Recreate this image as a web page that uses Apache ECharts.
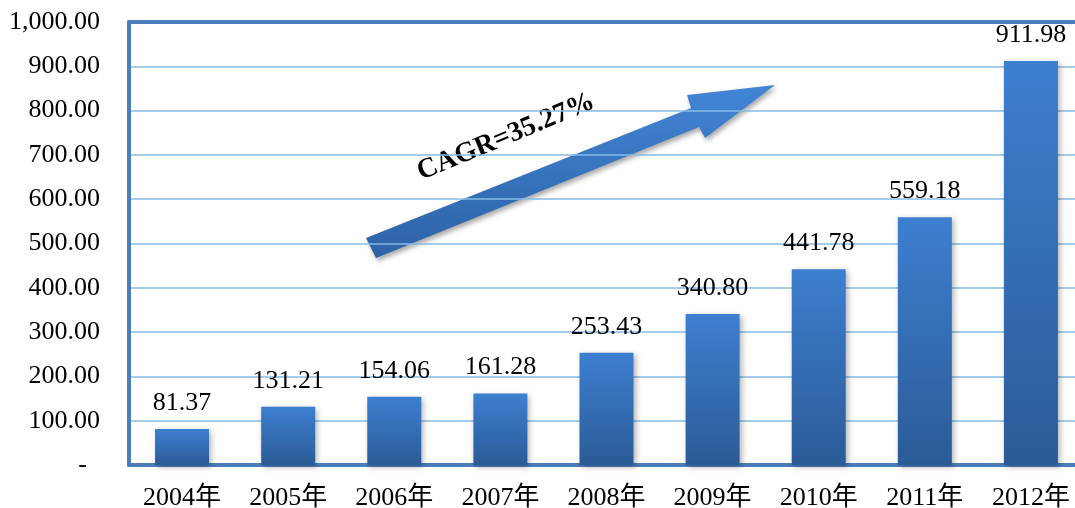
<!DOCTYPE html>
<html>
<head>
<meta charset="utf-8">
<script src="https://cdn.jsdelivr.net/npm/echarts@6/dist/echarts.min.js"></script>
<style>
    html, body {margin: 0; padding: 0; background: #fff;}
    #main {width: 1075px; height: 508px;}
</style>
</head>
<body>
<div id="main"></div>
<script>
var years = ['2004年', '2005年', '2006年', '2007年', '2008年', '2009年', '2010年', '2011年', '2012年'];
var values = [81.37, 131.21, 154.06, 161.28, 253.43, 340.80, 441.78, 559.18, 911.98];
var cagr_text = 'CAGR=35.27%';

var serif = '"Times New Roman", "Liberation Serif", "DejaVu Serif", "Noto Sans CJK SC", serif';

var chartDom = document.getElementById('main');
var myChart = echarts.init(chartDom);
var option;

function fmt_num(v) {
    if (v === 0) return '-  ';
    return v.toFixed(2).replace(/\B(?=(\d{3})+(?!\d))/g, ',');
}

option = {
    animation: false,
    grid: {left: 129, right: -9, top: 22, bottom: 43, containLabel: false, outerBoundsMode: 'none'},
    xAxis: [{
        type: 'category',
        data: years,
        axisLine: {lineStyle: {color: '#4a7ebb', width: 4}},
        axisTick: {inside: true, length: 7, lineStyle: {color: '#8fc0e6', width: 1.5}},
        axisLabel: {color: '#000', fontSize: 26, fontFamily: serif, margin: 20}
    }, {
        type: 'category',
        data: years,
        position: 'top',
        axisLine: {lineStyle: {color: '#4a7ebb', width: 4}},
        axisTick: {show: false},
        axisLabel: {show: false}
    }],
    yAxis: {
        type: 'value',
        min: 0,
        max: 1000,
        interval: 100,
        axisLine: {show: true, lineStyle: {color: '#4a7ebb', width: 4}},
        axisTick: {show: false},
        splitLine: {lineStyle: {color: '#86bbe3', width: 1.5}},
        axisLabel: {
            color: '#000', fontSize: 26, fontFamily: serif, margin: 29,
            formatter: fmt_num
        }
    },
    series: [{
        type: 'bar',
        data: values,
        barWidth: 54,
        itemStyle: {
            color: new echarts.graphic.LinearGradient(0, 0, 0, 1, [
                {offset: 0, color: '#3d7fd0'},
                {offset: 1, color: '#2b5b97'}
            ]),
            shadowBlur: 6,
            shadowColor: 'rgba(0,0,0,0.3)',
            shadowOffsetX: 2,
            shadowOffsetY: 2
        },
        label: {
            show: true,
            position: 'top',
            distance: 13,
            color: '#000',
            fontSize: 26,
            fontFamily: serif,
            formatter: function (p) { return p.value.toFixed(2); }
        }
    }],
    graphic: [{
        // 趋势箭头
        type: 'polygon',
        shape: {
            points: [[366, 238], [691, 108], [687, 95], [775, 85], [705, 138], [699, 127], [376, 258]]
        },
        style: {
            fill: new echarts.graphic.LinearGradient(0, 0, 0, 1, [
                {offset: 0, color: '#4285d6'},
                {offset: 1, color: '#2d62a6'}
            ]),
            shadowBlur: 5,
            shadowColor: 'rgba(0,0,0,0.35)',
            shadowOffsetX: 2,
            shadowOffsetY: 3
        }
    }, {
        type: 'text',
        x: 506,
        y: 137,
        rotation: 22.6 * Math.PI / 180,
        style: {
            text: cagr_text,
            fill: '#000',
            font: 'bold 28px ' + serif,
            align: 'center',
            verticalAlign: 'middle'
        }
    }]
};

option && myChart.setOption(option);
</script>
</body>
</html>
